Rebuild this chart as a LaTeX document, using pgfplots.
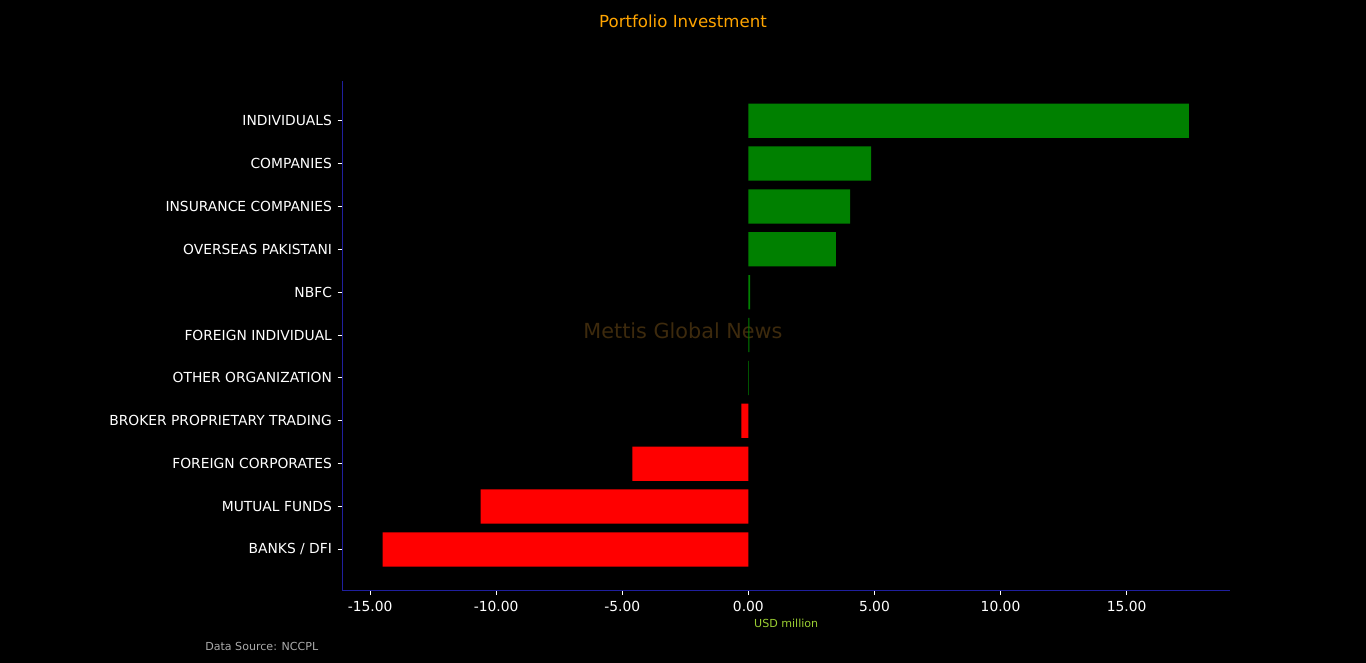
\documentclass[border=0pt]{standalone}
\usepackage{pgfplots}
\pgfplotsset{compat=1.18}
\usepackage{fontspec}
\setmainfont{DejaVu Sans}
\definecolor{spine}{rgb}{0.12,0.12,0.62}
\definecolor{barg}{HTML}{008000}
\definecolor{barr}{HTML}{FF0000}
\definecolor{ttl}{HTML}{FFA500}
\definecolor{wm}{rgb}{0.24,0.165,0.05}
\definecolor{ylab}{HTML}{9ACD32}
\definecolor{src}{HTML}{AAAAAA}
\begin{document}
\begin{tikzpicture}
\fill[black] (0,0) rectangle (983.52bp,477.36bp);
\node[text=wm, font=\fontsize{15}{17}\selectfont, inner sep=0pt] at (491.76bp,239.04bp) {Mettis Global News};
\node[text=ttl, font=\fontsize{12}{14}\selectfont, inner sep=0pt] at (491.76bp,462.24bp) {Portfolio Investment};
\node[text=src, font=\fontsize{8}{10}\selectfont, inner sep=0pt, anchor=west] at (147.6bp,12.24bp) {Data Source: NCCPL};
\begin{axis}[
  at={(246.5bp,52.3bp)}, anchor=south west,
  scale only axis, width=639.1bp, height=366.7bp,
  xmin=-16.1, xmax=19.1, ymin=-0.955, ymax=10.925,
  axis x line*=bottom, axis y line*=left,
  axis line style={spine, line width=0.8pt, -},
  xbar, bar width=0.8,
  xtick={-15,-10,-5,0,5,10,15},
  ytick={0,1,2,3,4,5,6,7,8,9,10},
  yticklabels={BANKS / DFI, MUTUAL FUNDS, FOREIGN CORPORATES, BROKER PROPRIETARY TRADING, OTHER ORGANIZATION, FOREIGN INDIVIDUAL, NBFC, OVERSEAS PAKISTANI, INSURANCE COMPANIES, COMPANIES, INDIVIDUALS},
  tick align=outside, major tick length=3.5pt,
  tick style={white, line width=0.8pt},
  ticklabel style={text=white, font=\fontsize{10}{12}\selectfont},
  xticklabel style={yshift=-1pt},
  yticklabel style={xshift=-0.5pt},
  /pgf/number format/assume math mode=true,
  /pgf/number format/.cd, fixed, fixed zerofill, precision=2,
  /pgfplots/.cd,
  xlabel={USD million},
  xlabel style={text=ylab, font=\fontsize{8}{10}\selectfont, yshift=1.6pt},
  clip=false,
]
\addplot[fill=barg, draw=none, bar shift=0pt] coordinates {
 (0.02,4) (0.04,5) (0.07,6) (3.47,7) (4.04,8) (4.87,9) (17.47,10)};
\addplot[fill=barr, draw=none, bar shift=0pt] coordinates {
 (-14.50,0) (-10.62,1) (-4.60,2) (-0.28,3)};
\end{axis}
\end{tikzpicture}
\end{document}
